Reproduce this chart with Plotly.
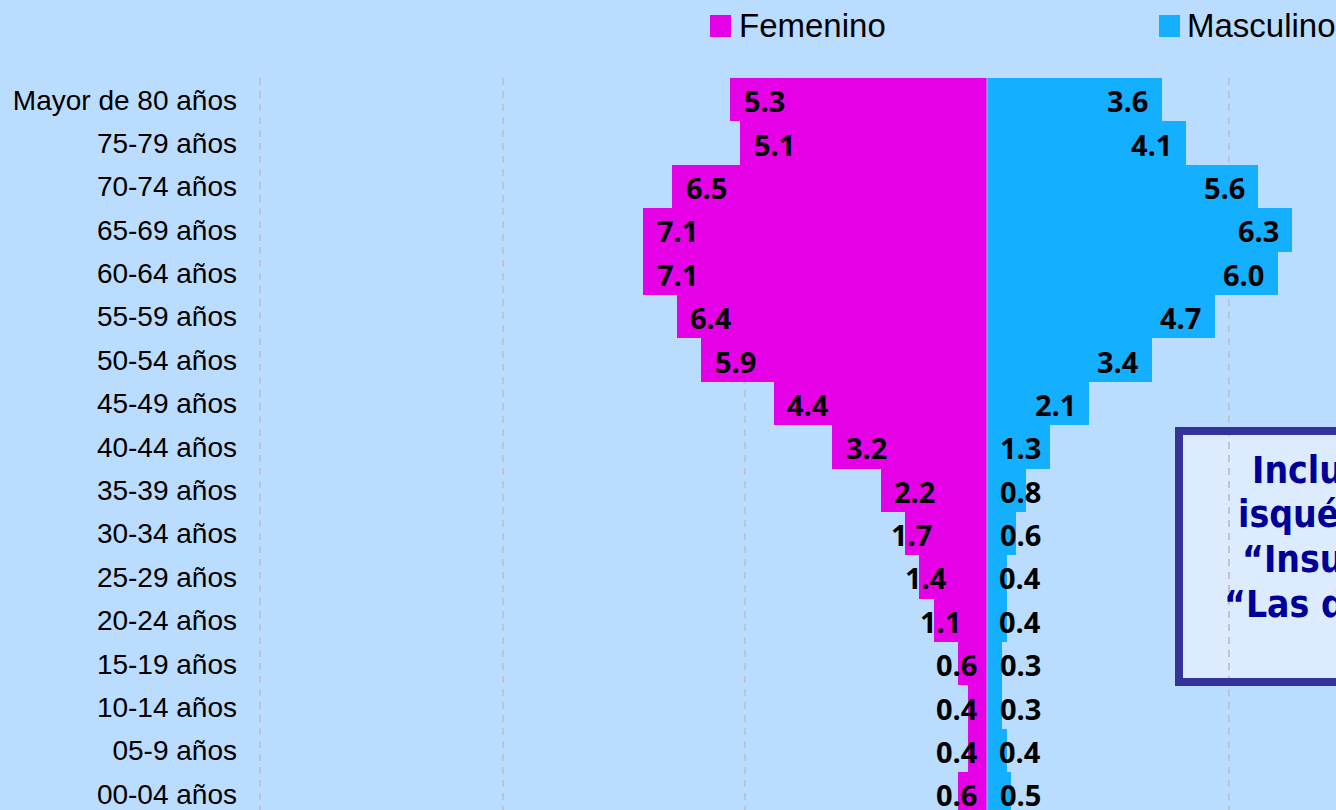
import plotly.graph_objects as go

# ---- data (top row first) ----
age_groups = ["Mayor de 80 años", "75-79 años", "70-74 años", "65-69 años", "60-64 años",
              "55-59 años", "50-54 años", "45-49 años", "40-44 años", "35-39 años",
              "30-34 años", "25-29 años", "20-24 años", "15-19 años", "10-14 años",
              "05-9 años", "00-04 años"]
femenino = [5.3, 5.1, 6.5, 7.1, 7.1, 6.4, 5.9, 4.4, 3.2, 2.2, 1.7, 1.4, 1.1, 0.6, 0.4, 0.4, 0.6]
masculino = [3.6, 4.1, 5.6, 6.3, 6.0, 4.7, 3.4, 2.1, 1.3, 0.8, 0.6, 0.4, 0.4, 0.3, 0.3, 0.4, 0.5]
series_names = ["Femenino", "Masculino"]
note_lines = ["Incluye enfermedad", "isquémica del corazón,",
              "“Insuficiencia cardíaca” y", "“Las demás enfermedades"]

# ---- styles ----
C_FEM = "#E600E6"
C_MAS = "#14AFFF"
BG = "#BADCFE"
W, H = 1336, 810
ML, MT = 259, 78
PW, PH = W - ML, H - MT

def px_x(px):
    return (px - ML) / PW

def px_y(py):
    return 1 - (py - MT) / PH

# reverse so top row is the last category (plotted at top)
cats = age_groups[::-1]
fem = femenino[::-1]
mas = masculino[::-1]

fig = go.Figure()
fig.add_trace(go.Bar(y=cats, x=[-v for v in fem], orientation="h", name=series_names[0],
                     marker=dict(color=C_FEM, line=dict(width=0)), showlegend=False,
                     hoverinfo="skip"))
fig.add_trace(go.Bar(y=cats, x=mas, orientation="h", name=series_names[1],
                     marker=dict(color=C_MAS, line=dict(width=0)), showlegend=False,
                     hoverinfo="skip"))

# value labels: positions derived from the values
lab_font = dict(family="Open Sans, DejaVu Sans, sans-serif", size=29, color="black", weight="bold")
annotations = []
for c, v in zip(cats, fem):
    lx = -(v - 0.7) if v >= 2 else -max(v - 0.13, 0.63)
    annotations.append(dict(xref="x", yref="y", x=lx, y=c, text=f"{v:.1f}", showarrow=False,
                            xanchor="center", yanchor="middle", yshift=-1, font=lab_font))
for c, v in zip(cats, mas):
    lx = max(v - 0.7, 0.68)
    annotations.append(dict(xref="x", yref="y", x=lx, y=c, text=f"{v:.1f}", showarrow=False,
                            xanchor="center", yanchor="middle", yshift=-1, font=lab_font))

n = len(cats)
shapes = [
    # zero divider
    dict(type="line", xref="x", yref="y", x0=0, x1=0, y0=-0.5, y1=n - 0.5,
         line=dict(color="#A8A0D0", width=1.5), layer="above"),
    # note box fill (below grid)
    dict(type="rect", xref="paper", yref="paper", x0=px_x(1179), x1=px_x(1700),
         y0=px_y(682), y1=px_y(431), fillcolor="#DCEBFE", line=dict(width=0), layer="below"),
    # note box border
    dict(type="rect", xref="paper", yref="paper", x0=px_x(1179), x1=px_x(1700),
         y0=px_y(682), y1=px_y(431), fillcolor="rgba(0,0,0,0)",
         line=dict(color="#333399", width=8), layer="above"),
    # legend squares
    dict(type="rect", xref="paper", yref="paper", x0=px_x(710), x1=px_x(731),
         y0=px_y(37), y1=px_y(15), fillcolor=C_FEM, line=dict(width=0)),
    dict(type="rect", xref="paper", yref="paper", x0=px_x(1159), x1=px_x(1180),
         y0=px_y(37), y1=px_y(15), fillcolor=C_MAS, line=dict(width=0)),
]

annotations += [
    dict(xref="paper", yref="paper", x=px_x(737), y=px_y(26), xanchor="left", yanchor="middle",
         text=series_names[0], showarrow=False,
         font=dict(family="Liberation Sans, Arial, sans-serif", size=33, color="black")),
    dict(xref="paper", yref="paper", x=px_x(1185), y=px_y(26), xanchor="left", yanchor="middle",
         text=series_names[1], showarrow=False,
         font=dict(family="Liberation Sans, Arial, sans-serif", size=33, color="black")),
]
note_x = [1250, 1236, 1240, 1222]
note_y = [470, 514, 559, 604]
for txt, nx, ny in zip(note_lines, note_x, note_y):
    annotations.append(dict(xref="paper", yref="paper", x=px_x(nx), y=px_y(ny),
                            xanchor="left", yanchor="middle", text=txt, showarrow=False,
                            font=dict(family="DejaVu Sans Condensed, DejaVu Sans, sans-serif",
                                      size=37, color="#000099", weight="bold")))

fig.update_layout(
    width=W, height=H, autosize=False,
    margin=dict(l=ML, r=0, t=MT, b=0, pad=0),
    paper_bgcolor=BG, plot_bgcolor=BG,
    barmode="relative", bargap=0,
    shapes=shapes, annotations=annotations,
    showlegend=False,
)
fig.update_xaxes(range=[-15.03, 7.2], tick0=0, dtick=5, showticklabels=False,
                 showgrid=True, gridcolor="#BFC3D2", gridwidth=1.5, griddash="7px,6px",
                 zeroline=False, showline=False, fixedrange=True)
fig.update_yaxes(type="category", categoryorder="array", categoryarray=cats,
                 range=[-0.37, n - 0.5], showgrid=False, zeroline=False, showline=False,
                 ticks="", ticklabelstandoff=21,
                 tickfont=dict(family="Liberation Sans, Arial, sans-serif", size=28, color="black"),
                 fixedrange=True)

fig.write_html("out.html", config={"displayModeBar": False},
               post_script="document.body.style.margin='0';document.body.style.padding='0';"
                           "document.body.style.overflow='hidden';"
                           "document.body.style.background='" + BG + "';")
